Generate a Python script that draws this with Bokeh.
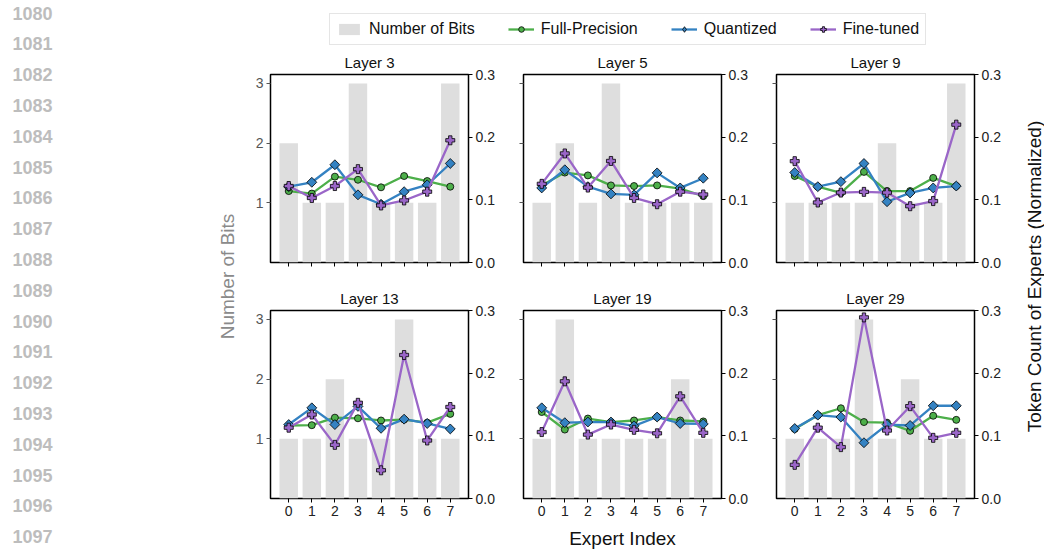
import math
from bokeh.plotting import figure
from bokeh.layouts import row, column
from bokeh.models import (Range1d, LinearAxis, FixedTicker, Legend, LegendItem,
                          PrintfTickFormatter)
from bokeh.core.properties import value
from bokeh.embed import file_html
from bokeh.resources import INLINE

FONT = "Liberation Sans"

# ---------------- data ----------------
EXPERTS = [0, 1, 2, 3, 4, 5, 6, 7]
LAYER_NAMES = ["Layer 3", "Layer 5", "Layer 9", "Layer 13", "Layer 19", "Layer 29"]

BITS_L3 = [2, 1, 1, 3, 1, 1, 1, 3]
FP_L3 = [0.114, 0.110, 0.137, 0.132, 0.120, 0.138, 0.130, 0.121]
Q_L3 = [0.121, 0.128, 0.156, 0.108, 0.093, 0.113, 0.124, 0.158]
FT_L3 = [0.122, 0.103, 0.122, 0.149, 0.091, 0.099, 0.113, 0.195]

BITS_L5 = [1, 2, 1, 3, 1, 1, 1, 1]
FP_L5 = [0.123, 0.1435, 0.139, 0.123, 0.122, 0.123, 0.118, 0.106]
Q_L5 = [0.119, 0.148, 0.121, 0.1095, 0.108, 0.143, 0.119, 0.1345]
FT_L5 = [0.1255, 0.174, 0.1196, 0.162, 0.103, 0.093, 0.113, 0.1085]

BITS_L9 = [1, 1, 1, 1, 2, 1, 1, 3]
FP_L9 = [0.138, 0.121, 0.111, 0.1446, 0.114, 0.114, 0.135, 0.122]
Q_L9 = [0.1436, 0.121, 0.129, 0.158, 0.097, 0.111, 0.119, 0.122]
FT_L9 = [0.1617, 0.0957, 0.1116, 0.1127, 0.1116, 0.0898, 0.098, 0.220]

BITS_L13 = [1, 1, 2, 1, 1, 3, 1, 1]
FP_L13 = [0.1165, 0.117, 0.129, 0.128, 0.1245, 0.126, 0.121, 0.135]
Q_L13 = [0.118, 0.1447, 0.118, 0.147, 0.112, 0.1266, 0.1197, 0.111]
FT_L13 = [0.113, 0.134, 0.0856, 0.1527, 0.045, 0.229, 0.0926, 0.146]

BITS_L19 = [1, 3, 1, 1, 1, 1, 2, 1]
FP_L19 = [0.138, 0.110, 0.1276, 0.122, 0.1245, 0.130, 0.1245, 0.123]
Q_L19 = [0.1447, 0.121, 0.122, 0.122, 0.116, 0.130, 0.1197, 0.119]
FT_L19 = [0.106, 0.187, 0.102, 0.118, 0.1096, 0.104, 0.163, 0.1048]

BITS_L29 = [1, 1, 1, 3, 1, 2, 1, 1]
FP_L29 = [0.111, 0.133, 0.144, 0.122, 0.121, 0.108, 0.132, 0.1255]
Q_L29 = [0.1117, 0.133, 0.130, 0.089, 0.118, 0.1165, 0.148, 0.148]
FT_L29 = [0.0537, 0.113, 0.082, 0.289, 0.1085, 0.1473, 0.0968, 0.1048]

BITS = [BITS_L3, BITS_L5, BITS_L9, BITS_L13, BITS_L19, BITS_L29]
FP = [FP_L3, FP_L5, FP_L9, FP_L13, FP_L19, FP_L29]
Q = [Q_L3, Q_L5, Q_L9, Q_L13, Q_L19, Q_L29]
FT = [FT_L3, FT_L5, FT_L9, FT_L13, FT_L19, FT_L29]

SERIES_NAMES = ["Number of Bits", "Full-Precision", "Quantized", "Fine-tuned"]
BITS_TICKS = [1, 2, 3]
TOKEN_TICKS = [0.0, 0.1, 0.2, 0.3]
LINE_NUMBERS = ["1080", "1081", "1082", "1083", "1084", "1085", "1086", "1087", "1088",
                "1089", "1090", "1091", "1092", "1093", "1094", "1095", "1096", "1097"]

# ---------------- styles ----------------
BAR_COLOR = "#dedede"
GREEN = "#4daf4a"
BLUE = "#3482c2"
PURPLE = "#9a66c8"

FRAME_W, FRAME_H = 198, 188
STRIP_W = 240
RIGHT_W = 25


def draw_series(p, idx, y_range_name=None, legend_mode=False):
    kw = {}
    if y_range_name:
        kw["y_range_name"] = y_range_name
    r_fp_l = p.line(EXPERTS, FP[idx], line_color=GREEN, line_width=2.3, **kw)
    r_fp_m = p.scatter(EXPERTS, FP[idx], marker="circle", size=7, fill_color=GREEN,
                       line_color="black", line_width=0.8, **kw)
    r_q_l = p.line(EXPERTS, Q[idx], line_color=BLUE, line_width=2.3, **kw)
    if legend_mode:
        r_q_m = p.scatter(EXPERTS, Q[idx], marker="diamond", size=11,
                          fill_color=BLUE, line_color="black", line_width=0.8, **kw)
    else:
        r_q_m = p.scatter(EXPERTS, Q[idx], marker="square", angle=math.pi / 4, size=7,
                          fill_color=BLUE, line_color="black", line_width=0.8, **kw)
    r_ft_l = p.line(EXPERTS, FT[idx], line_color=PURPLE, line_width=2.3, **kw)
    r_ft_m = p.scatter(EXPERTS, FT[idx], marker="plus", size=9, fill_color=PURPLE,
                       line_color="black", line_width=0.8, **kw)
    return (r_fp_l, r_fp_m), (r_q_l, r_q_m), (r_ft_l, r_ft_m)


def make_panel(idx):
    r, c = divmod(idx, 3)
    p = figure(frame_width=FRAME_W, frame_height=FRAME_H,
               x_range=Range1d(-0.79, 7.79), y_range=Range1d(0, 3.15),
               output_backend="svg", toolbar_location=None,
               min_border_left=30 if c == 0 else 10, min_border_right=45,
               min_border_top=28 if r == 0 else 36,
               min_border_bottom=12 if r == 0 else 56)
    p.title.text = LAYER_NAMES[idx]
    p.title.align = "center"
    p.title.text_font = FONT
    p.title.text_font_size = "15px"
    p.title.text_font_style = "normal"
    p.title.text_color = "#111111"
    p.title.standoff = 8
    p.grid.visible = False
    p.outline_line_color = "black"
    p.outline_line_width = 1.5
    p.background_fill_color = "white"

    p.vbar(x=EXPERTS, top=BITS[idx], width=0.8, fill_color=BAR_COLOR, line_color=None)

    p.extra_y_ranges = {"tok": Range1d(0, 0.3)}
    ax_r = LinearAxis(y_range_name="tok", ticker=FixedTicker(ticks=TOKEN_TICKS),
                      formatter=PrintfTickFormatter(format="%.1f"))
    ax_r.axis_line_color = None
    ax_r.major_tick_in = 0
    ax_r.major_tick_out = 4
    ax_r.minor_tick_line_color = None
    ax_r.major_tick_line_color = "black"
    ax_r.major_label_text_font = FONT
    ax_r.major_label_text_font_size = "14px"
    ax_r.major_label_text_color = "#222222"
    ax_r.major_label_standoff = 3
    p.add_layout(ax_r, "right")

    draw_series(p, idx, "tok")

    ya = p.yaxis[0]
    ya.ticker = FixedTicker(ticks=BITS_TICKS)
    ya.axis_line_color = None
    ya.major_tick_in = 0
    ya.major_tick_out = 4
    ya.minor_tick_line_color = None
    ya.major_tick_line_color = "#555555"
    ya.major_label_text_font = FONT
    ya.major_label_text_font_size = "14px"
    ya.major_label_text_color = "#555555"
    ya.major_label_standoff = 3
    if c != 0:
        ya.major_label_overrides = {1: "", 2: "", 3: ""}

    xa = p.xaxis[0]
    xa.ticker = FixedTicker(ticks=EXPERTS)
    xa.axis_line_color = None
    xa.major_tick_in = 0
    xa.major_tick_out = 4
    xa.minor_tick_line_color = None
    xa.major_tick_line_color = "black"
    xa.major_label_text_font = FONT
    xa.major_label_text_font_size = "14px"
    xa.major_label_text_color = "#222222"
    xa.major_label_standoff = 3
    if r == 0:
        xa.major_label_overrides = {e: "" for e in EXPERTS}
    if idx == 4:
        xa.axis_label = "Expert Index"
        xa.axis_label_text_font = FONT
        xa.axis_label_text_font_size = "19px"
        xa.axis_label_text_font_style = "normal"
        xa.axis_label_text_color = "#111111"
        xa.axis_label_standoff = 9
    return p


panels = [make_panel(i) for i in range(6)]

# ---------------- legend strip ----------------
LEG_W = 273 + 253 + 253
leg = figure(width=LEG_W, height=46, x_range=Range1d(100, 101), y_range=Range1d(100, 101),
             output_backend="svg", toolbar_location=None, min_border=0,
             x_axis_location=None, y_axis_location=None)
leg.grid.visible = False
leg.outline_line_color = None
rb = leg.vbar(x=EXPERTS, top=BITS_L3, width=0.8, fill_color=BAR_COLOR, line_color=None)
g, b, pu = draw_series(leg, 0, legend_mode=True)
legend = Legend(items=[LegendItem(label=SERIES_NAMES[0], renderers=[rb]),
                       LegendItem(label=SERIES_NAMES[1], renderers=list(g)),
                       LegendItem(label=SERIES_NAMES[2], renderers=list(b)),
                       LegendItem(label=SERIES_NAMES[3], renderers=list(pu))],
                orientation="horizontal", location=(89, 1), margin=0,
                padding=6, spacing=33, label_standoff=7,
                glyph_width=26, glyph_height=14, label_height=18,
                label_text_font=FONT, label_text_font_size="16px",
                label_text_color="#111111",
                border_line_color="#cccccc", border_line_width=1,
                background_fill_color="white", background_fill_alpha=1)
leg.add_layout(legend)

# ---------------- left strip: line numbers + left title ----------------
left = figure(width=STRIP_W, height=554, x_range=Range1d(0, STRIP_W), y_range=Range1d(554, 0),
              output_backend="svg", toolbar_location=None, min_border=0,
              x_axis_location=None, y_axis_location=None)
left.grid.visible = False
left.outline_line_color = None
left.text(x=[12] * len(LINE_NUMBERS), y=[12.5 + 30.8 * i for i in range(len(LINE_NUMBERS))],
          text=LINE_NUMBERS, text_font=value(FONT), text_font_size="18px",
          text_font_style="bold", text_color="#bdbdbd", text_baseline="middle",
          text_align="left")
left.text(x=[227], y=[276], text=["Number of Bits"], angle=math.pi / 2,
          text_font=value(FONT), text_font_size="19px", text_color="#8a8a8a",
          text_baseline="middle", text_align="center")

# ---------------- right strip: right title ----------------
right = figure(width=RIGHT_W, height=554, x_range=Range1d(0, RIGHT_W), y_range=Range1d(554, 0),
               output_backend="svg", toolbar_location=None, min_border=0,
               x_axis_location=None, y_axis_location=None)
right.grid.visible = False
right.outline_line_color = None
right.text(x=[15], y=[276], text=["Token Count of Experts (Normalized)"], angle=math.pi / 2,
           text_font=value(FONT), text_font_size="19px", text_color="#111111",
           text_baseline="middle", text_align="center")

middle = column(leg, row(*panels[:3]), row(*panels[3:]), spacing=0)
layout = row(left, middle, right, spacing=0)

open("out.html", "w").write(file_html(layout, INLINE))
